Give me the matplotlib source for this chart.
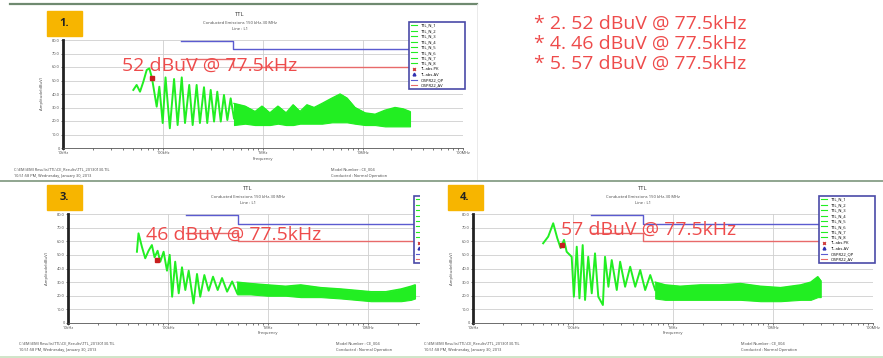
import matplotlib
matplotlib.use("Agg")
import matplotlib.pyplot as plt
from matplotlib.lines import Line2D
from matplotlib.patches import Rectangle
from matplotlib.ticker import FixedLocator, LogLocator, NullFormatter

plt.rcParams['font.family'] = ['Open Sans', 'DejaVu Sans']

W, H = 883, 358

# ---- spectrum readings: frequency in kHz, level in dBuV ----
# scan 1
p1_spike_khz = [50.5, 54.5, 58.9, 63.6, 68.7, 73.0, 77.5, 86.5, 91.9, 99.3, 106, 117,
                129, 140, 154, 166, 183, 198, 217, 234, 257, 277, 300, 324, 349, 378,
                407, 440, 475, 513]
p1_spike_dbuv = [43, 46.7, 41.7, 49.1, 57.8, 59, 52, 30.6, 45.4, 18.5, 52.3, 14.6,
                 51.1, 17, 52.3, 18.5, 46.7, 17, 46.7, 18.5, 45, 18.5, 43, 19.6, 41.7, 19.6,
                 39.3, 20.7, 36.8, 21.9]
p1_band_khz = [513, 661, 832, 977, 1170, 1410, 1700, 2000, 2340, 2750, 3240, 3890,
               4900, 5900, 6900, 8300, 10500, 13200, 16600, 20900, 25100, 29500]
p1_band_hi = [33, 31, 27, 31, 26, 31, 26, 32, 27, 32, 30, 33, 37, 40, 37, 30, 26, 25,
              28, 30, 29, 27]
p1_band_lo = [17, 18, 17, 17, 17, 18, 17, 17, 18, 18, 18, 18, 19, 19, 19, 18, 17, 17,
              16, 16, 16, 16]

# scan 3
p3_spike_khz = [48.9, 50.7, 54.8, 59.2, 63.9, 69.0, 73.4, 78.7, 83.7, 90.4, 97.7, 104,
                110, 118, 128, 138, 149, 161, 180, 195, 210, 231, 255, 282, 314, 347,
                390, 438, 492]
p3_spike_dbuv = [52.3, 65.8, 56, 47.5, 53, 57.2, 48.2, 53, 45, 52.3, 38.4, 50,
                 19.3, 45, 21.8, 40.9, 24.2, 38.4, 14.4, 36, 19.3, 35.2, 23.7, 34, 24.2, 33,
                 23, 30.5, 21.8]
p3_band_khz = [492, 665, 991, 1500, 2120, 3370, 5350, 7560, 10700, 15100, 21400, 26900,
               29500]
p3_band_hi = [30, 29, 28, 27, 28, 26, 25, 24, 23, 23, 25, 27, 28]
p3_band_lo = [21, 21, 20, 20, 19, 19, 18, 17, 16, 16, 16, 17, 18]

# scan 4
p4_spike_khz = [50.3, 56.5, 63.4, 69.6, 75.2, 81.3, 86.4, 97, 102, 109, 116, 125, 132,
                142, 154, 166, 179, 199, 209, 226, 244, 274, 296, 332, 373, 419, 470,
                527, 592, 664]
p4_spike_dbuv = [58.5, 63.4, 73.2, 62.3, 55, 61, 52.3, 48.6, 19.3, 56, 18.1, 57.2, 16.9,
                 48.6, 21.8, 51.1, 19.3, 13.2, 48.6, 26.6, 46.2, 24.2, 45, 26.6, 41.3,
                 26.6, 38.9, 24.2, 35.2, 24.2]
p4_band_khz = [664, 838, 1180, 1880, 2980, 4730, 7500, 11900, 18900, 23800, 28000, 30000]
p4_band_hi = [30, 28, 27, 28, 28, 29, 27, 26, 28, 30, 34, 31]
p4_band_lo = [18, 17, 17, 17, 17, 17, 16, 16, 17, 17, 19, 19]

# CISPR 22 class A limits
limit_khz = [150, 500, 30000]
qp_limit = [79, 73, 73]
av_limit = [66, 60, 60]

peak_khz = 77.5
p1_peak, p3_peak, p4_peak = 52, 46, 57

notes = ["* 2. 52 dBuV @ 77.5kHz", "* 4. 46 dBuV @ 77.5kHz", "* 5. 57 dBuV @ 77.5kHz"]

xtick_khz = [10, 100, 1000, 10000, 100000]
xtick_labels = ["10kHz", "100kHz", "1MHz", "10MHz", "100MHz"]
ytick_vals = [0, 10, 20, 30, 40, 50, 60, 70, 80]

legend_labels = ["TTL_N_1", "TTL_N_2", "TTL_N_3", "TTL_N_4", "TTL_N_5", "TTL_N_6",
                 "TTL_N_7", "TTL_N_8", "TL.abs.PK", "TL.abs.AV", "CISPR22_QP", "CISPR22_AV"]

GREEN = "#22ee22"
BLUE = "#5b5bd0"
RED = "#e86a6a"
NOTE_RED = "#ee4b4b"

fig = plt.figure(figsize=(W / 100, H / 100), dpi=100)


def fx(x):
    return x / W


def fy(y):
    return 1 - y / H


def rect(x0, y0, x1, y1):
    return [x0 / W, 1 - y1 / H, (x1 - x0) / W, (y1 - y0) / H]


def panel(x0, top, h, label, box_x, title_x, spike_f, spike_v, band_f, band_hi, band_lo,
          peak, ann_x, ann_y, z):
    ax = fig.add_axes(rect(x0, top, x0 + 400, top + h))
    ax.set_zorder(z)
    ax.set_xscale("log")
    ax.set_xlim(10, 100000)
    ax.set_ylim(0, 80)

    ax.fill_between(band_f, band_lo, band_hi, color=GREEN, lw=0.8, zorder=3)
    ax.plot(spike_f, spike_v, color=GREEN, lw=1.4, zorder=3)
    ax.plot(band_f, band_hi, color=GREEN, lw=1.0, zorder=3)
    ax.plot(limit_khz, qp_limit, color=BLUE, lw=1.0, drawstyle="steps-post", zorder=2)
    ax.plot(limit_khz, av_limit, color=RED, lw=1.0, drawstyle="steps-post", zorder=2)
    ax.plot([peak_khz], [peak], "s", color="#c81e1e", ms=3.2, zorder=4)

    ax.xaxis.set_major_locator(FixedLocator(xtick_khz))
    ax.set_xticklabels(xtick_labels)
    ax.xaxis.set_minor_locator(LogLocator(base=10, subs=range(2, 10)))
    ax.xaxis.set_minor_formatter(NullFormatter())
    ax.set_yticks(ytick_vals)
    ax.set_yticklabels(["0"] + [f"{v:.1f}" for v in ytick_vals[1:]])
    ax.tick_params(labelsize=2.8, length=1.5, width=0.5, colors="#444444", pad=1)
    ax.tick_params(which="minor", length=1.2, width=0.5, colors="#444444")
    ax.grid(True, which="major", color="#cfcfcf", lw=0.6)
    for s in ("top", "right"):
        ax.spines[s].set_visible(False)
    ax.spines["left"].set_linewidth(2.0)
    ax.spines["left"].set_color("#222222")
    ax.spines["bottom"].set_linewidth(0.6)
    ax.spines["bottom"].set_color("#555555")

    handles = [Line2D([], [], color=GREEN, lw=0.8) for _ in range(8)]
    handles += [Line2D([], [], ls="", marker="x", color="#d04040", ms=2),
                Line2D([], [], ls="", marker="^", color="#3030b0", ms=2),
                Line2D([], [], color=BLUE, lw=0.8),
                Line2D([], [], color=RED, lw=0.8)]
    leg = ax.legend(handles, legend_labels, loc="upper left",
                    bbox_to_anchor=(fx(x0 + 346), fy(top + 53), 56 / W, 71 / H),
                    bbox_transform=fig.transFigure, mode="expand", fontsize=3,
                    labelspacing=0.35, handlelength=1.6, borderaxespad=0, borderpad=0.4,
                    fancybox=False, framealpha=1)
    leg.get_frame().set_edgecolor("#4a4aa8")
    leg.get_frame().set_linewidth(1.2)

    tz = z + 0.5
    fig.add_artist(Rectangle((fx(box_x), fy(top - 4)), 35 / W, 25 / H,
                             transform=fig.transFigure, color="#f7b500", zorder=tz))
    fig.text(fx(box_x + 17), fy(top - 16), label, fontsize=8, fontweight="bold",
             ha="center", va="center", color="#222222", zorder=tz + 0.1)
    fig.text(fx(title_x), fy(top - 25), "TTL", fontsize=4.2, ha="center", va="center",
             color="#333333", zorder=tz)
    fig.text(fx(title_x), fy(top - 17), "Conducted Emissions 150 kHz-30 MHz", fontsize=3,
             ha="center", va="center", color="#444444", zorder=tz)
    fig.text(fx(title_x), fy(top - 11), "Line : L1", fontsize=3, ha="center", va="center",
             color="#444444", zorder=tz)
    fig.text(fx(x0 - 21), fy(top + h / 2), "Amplitude(dBuV)", fontsize=3, rotation=90,
             ha="center", va="center", color="#444444", zorder=tz)
    fig.text(fx(x0 + 200), fy(top + 119), "Frequency", fontsize=3, ha="center",
             va="center", color="#444444", zorder=tz)
    fig.text(fx(x0 - 49), fy(top + 129), "C:\\EMI\\EMI Results\\TTL\\CE_Results\\TTL_20130130.TIL",
             fontsize=2.8, va="center", color="#444444", zorder=tz)
    fig.text(fx(x0 - 49), fy(top + 136), "10:51:58 PM, Wednesday, January 30, 2013",
             fontsize=2.8, va="center", color="#444444", zorder=tz)
    fig.text(fx(x0 + 268), fy(top + 129), "Model Number : CE_004", fontsize=2.8,
             va="center", color="#444444", zorder=tz)
    fig.text(fx(x0 + 268), fy(top + 136), "Conducted : Normal Operation", fontsize=2.8,
             va="center", color="#444444", zorder=tz)
    fig.text(fx(ann_x), fy(ann_y), f"{peak} dBuV @ {peak_khz}kHz", fontsize=14,
             va="center", color=NOTE_RED, zorder=tz + 0.2)
    return ax


panel(63, 40, 108, "1.", 47, 240, p1_spike_khz, p1_spike_dbuv, p1_band_khz,
      p1_band_hi, p1_band_lo, p1_peak, 122, 66, 1)
panel(68, 214, 109, "3.", 47, 248, p3_spike_khz, p3_spike_dbuv, p3_band_khz,
      p3_band_hi, p3_band_lo, p3_peak, 146, 235, 1)

# the fourth scan sits on top of the third one
cover = fig.add_axes(rect(420, 182, 883, 356))
cover.set_zorder(4)
cover.set_axis_off()
cover.add_patch(Rectangle((0, 0), 1, 1, transform=cover.transAxes, color="white"))

panel(473, 214, 109, "4.", 448, 643, p4_spike_khz, p4_spike_dbuv, p4_band_khz,
      p4_band_hi, p4_band_lo, p4_peak, 561, 230, 6)

# slide frame lines
fig.add_artist(Line2D([fx(10), fx(477)], [fy(4), fy(4)], color="#6f8a70", lw=1.6, zorder=9))
fig.add_artist(Line2D([fx(477), fx(477)], [fy(4), fy(179)], color="#e6e6e6", lw=0.6, zorder=9))
fig.add_artist(Line2D([0, 1], [fy(180.5), fy(180.5)], color="#8fa58f", lw=1.4, zorder=9))
fig.add_artist(Line2D([0, 1], [fy(357), fy(357)], color="#cfe5c8", lw=1.4, zorder=9))

for i, line in enumerate(notes):
    fig.text(fx(534), fy(24 + 20 * i), line, fontsize=14, va="center", color=NOTE_RED,
             zorder=9)

fig.savefig("out.png", dpi=100, facecolor="white")
